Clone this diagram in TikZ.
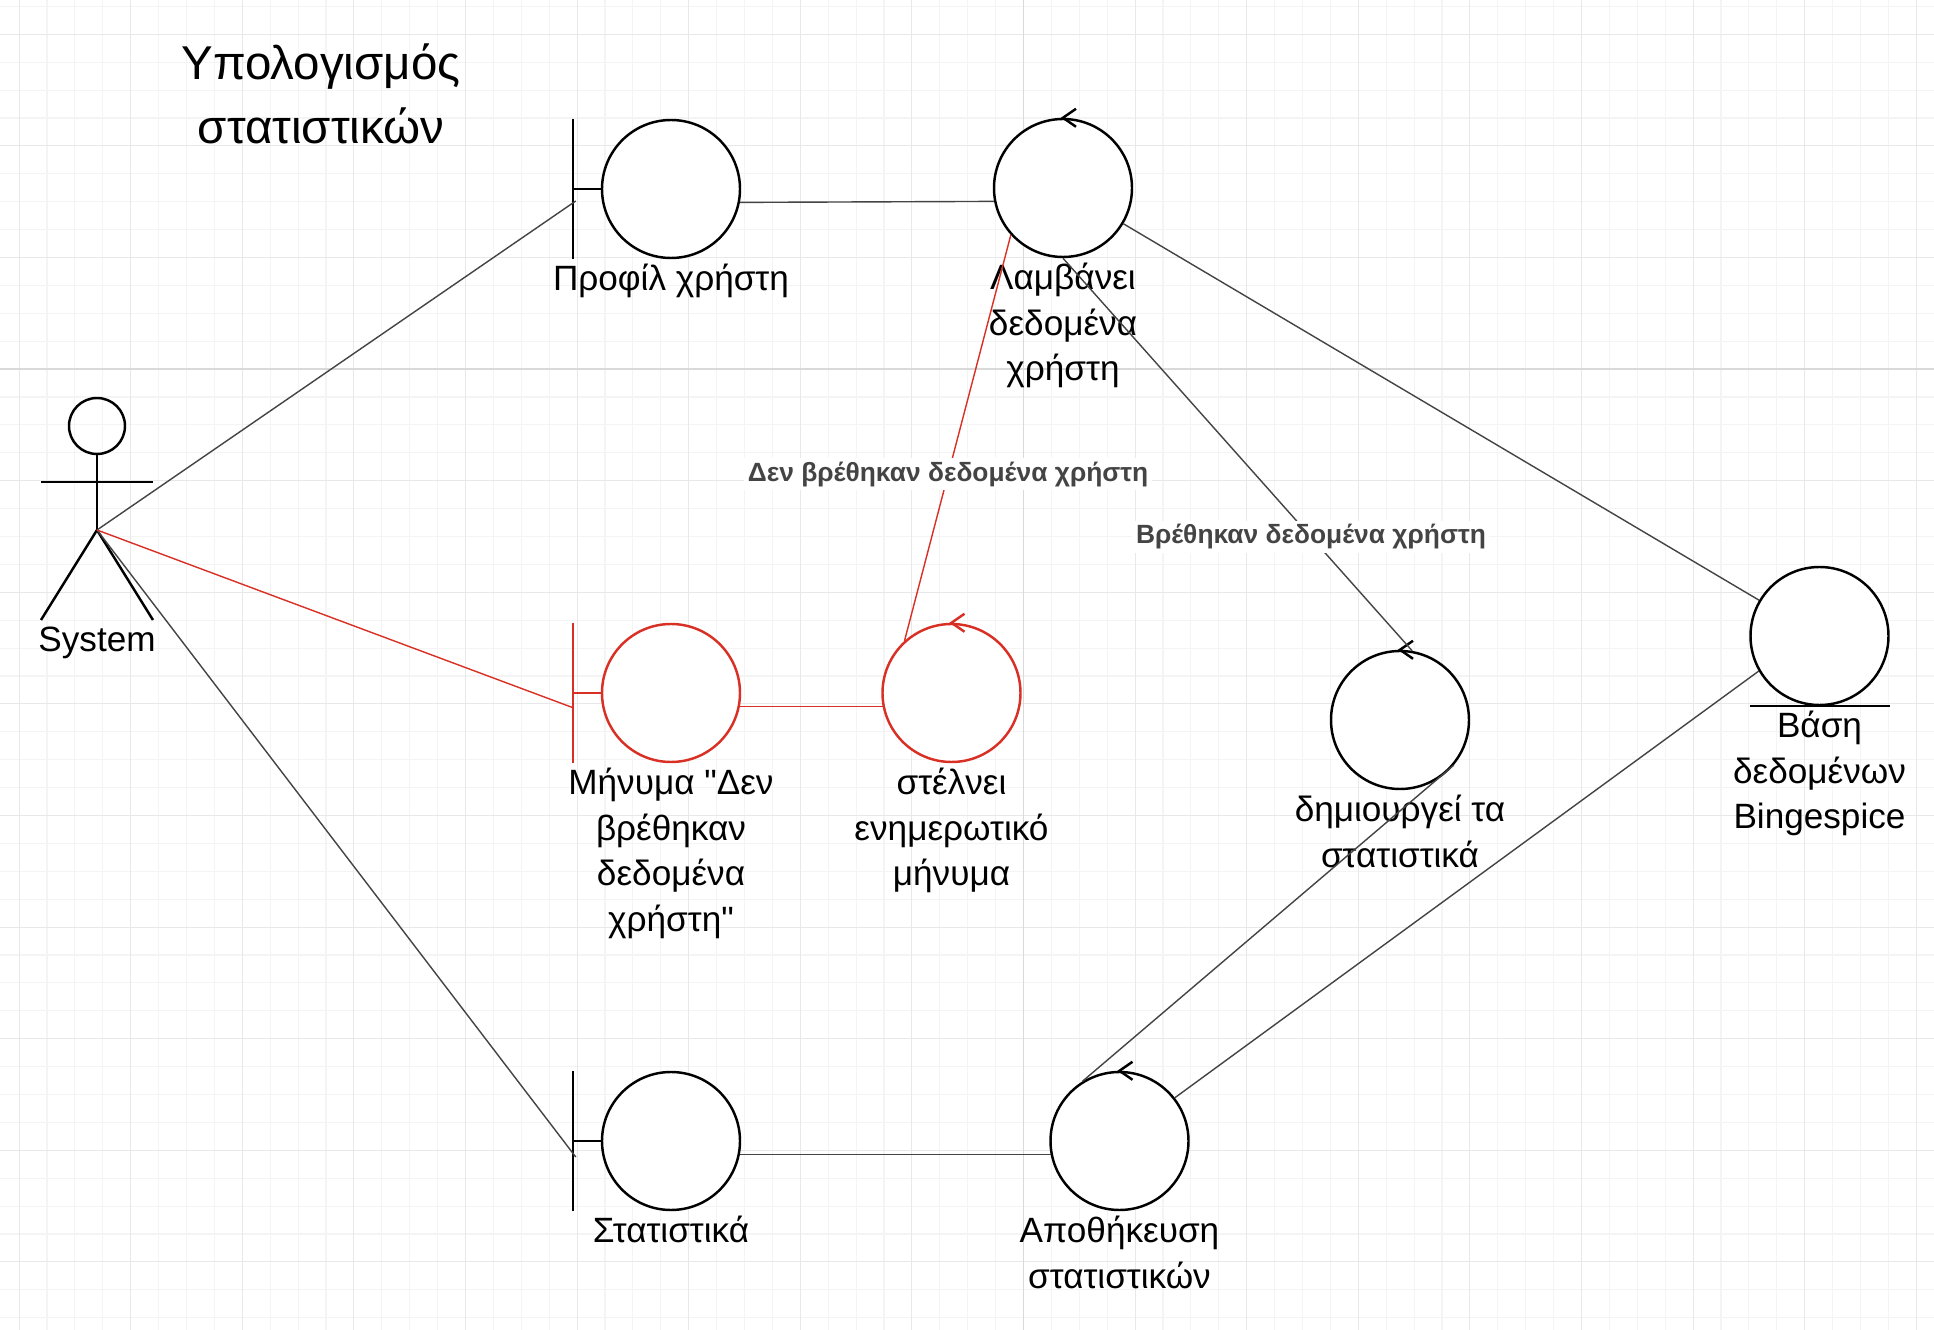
\documentclass[tikz,border=0pt]{standalone}
\usepackage{fontspec}
\setmainfont{Liberation Sans}
\newfontfamily\plainquote{Liberation Sans}
\usetikzlibrary{positioning,calc}
\definecolor{alertred}{RGB}{217,48,37}
\definecolor{edgegray}{RGB}{68,68,68}
\colorlet{gridminor}{gray!9}
\colorlet{gridmajor}{gray!18}
\colorlet{gridpage}{gray!30}

\begin{document}
\begin{tikzpicture}
  [x=0.1mm,y=-0.1mm,
   usecase/.style={circle,draw,line width=0.7pt,minimum size=13.8mm,inner sep=0pt,fill=white},
   bar/.style={line width=0.7pt},
   link/.style={draw=edgegray,line width=0.4pt},
   caption/.style={align=center,inner sep=0pt,font=\fontsize{10}{13}\selectfont},
   guard/.style={fill=white,inner sep=1pt,text=edgegray,font=\bfseries\fontsize{7.5}{9}\selectfont}
  ]
  % sfondo a griglia
  \fill[white] (0,0) rectangle (1934,1330);
  \useasboundingbox (0,0) rectangle (1934,1330);
  \foreach \i in {0,...,68} \draw[gridminor,line width=0.3pt] ({19.1+27.9*\i},0) -- ++(0,1330);
  \foreach \i in {0,...,47} \draw[gridminor,line width=0.3pt] (0,{6.4+27.9*\i}) -- ++(1934,0);
  \foreach \i in {0,...,17} \draw[gridmajor,line width=0.3pt] ({19.1+111.6*\i},0) -- ++(0,1330);
  \foreach \i in {0,...,11} \draw[gridmajor,line width=0.3pt] (0,{34.3+111.6*\i}) -- ++(1934,0);
  \draw[gridpage,line width=0.5pt] (1023.5,0) -- ++(0,1330);
  \draw[gridpage,line width=0.5pt] (0,369.1) -- ++(1934,0);

  \node[align=center,font=\fontsize{13.5}{18.2}\selectfont] (title) at (321,94) {Υπολογισμός\\στατιστικών};

  % attore
  \coordinate (sys) at (97,530);
  \coordinate (feet) at (97,620);
  \draw[bar] (97,426) circle (28);
  \draw[bar] (97,454) -- (sys);
  \draw[bar] (41,482) -- (153,482);
  \draw[bar] (41,620) -- (sys) -- (153,620);
  \node[caption,below=0.6mm of feet] (syslbl) {System};

  \node[usecase] (b1) at (671,189) {};
  \node[usecase] (c1) at (1063,188) {};
  \node[usecase,draw=alertred] (b2) at (671,693) {};
  \node[usecase,draw=alertred] (c2) at (951.5,693) {};
  \node[usecase] (c3) at (1400,720) {};
  \node[usecase] (db) at (1819.5,636) {};
  \node[usecase] (b3) at (671,1141) {};
  \node[usecase] (c4) at (1119.5,1141) {};

  % boundary
  \foreach \b/\col in {b1/black,b2/alertred,b3/black} {
    \draw[bar,\col] ($(\b.west)+(-28,-70)$) -- ($(\b.west)+(-28,70)$);
    \draw[bar,\col] ($(\b.west)+(-28,0)$) -- (\b.west);
  }
  % control
  \foreach \c/\col in {c1/black,c2/alertred,c3/black,c4/black}
    \draw[bar,\col] ($(\c.north)+(13,-9)$) -- (\c.north) -- ($(\c.north)+(13,9)$);
  % entity
  \draw[bar] ($(db.south)+(-70,0)$) -- ($(db.south)+(70,0)$);

  \node[caption,below=0.4mm of b1] (b1lbl) {Προφίλ χρήστη};
  \node[caption,below=0.4mm of c1] (c1lbl) {Λαμβάνει\\δεδομένα\\χρήστη};
  \node[caption,below=0.4mm of b2] (b2lbl) {Μήνυμα {\plainquote"}Δεν\\βρέθηκαν\\δεδομένα\\χρήστη{\plainquote"}};
  \node[caption,below=0.4mm of c2] (c2lbl) {στέλνει\\ενημερωτικό\\μήνυμα};
  \node[caption,below=0.4mm of c3] (c3lbl) {δημιουργεί τα\\στατιστικά};
  \node[caption,below=0.4mm of db] (dblbl) {Βάση\\δεδομένων\\Bingespice};
  \node[caption,below=0.4mm of b3] (b3lbl) {Στατιστικά};
  \node[caption,below=0.4mm of c4] (c4lbl) {Αποθήκευση\\στατιστικών};

  \coordinate (b1bar) at ($(b1.west)+(-25,12)$);
  \coordinate (b2bar) at ($(b2.west)+(-27,15)$);
  \coordinate (b3bar) at ($(b3.west)+(-25,16)$);

  \draw[link] (sys) -- (b1bar);
  \draw[link] (sys) -- (b3bar);
  \draw[link] (b1.-11) -- (c1.191);
  \draw[link] (c1) -- (db);
  \draw[link] (c1.south) -- node[guard,pos=0.71] {Βρέθηκαν δεδομένα χρήστη} (c3.80);
  \draw[link] (c3.-40) -- (c4.122);
  \draw[link] (db.210) -- (c4.38);
  \draw[link] (b3.-11) -- (c4.191);

  \draw[link,draw=alertred] (sys) -- (b2bar);
  \draw[link,draw=alertred] (b2.-11) -- (c2.191);
  \draw[link,draw=alertred] (c2.132) -- node[guard,pos=0.41] {Δεν βρέθηκαν δεδομένα χρήστη} (c1.222);
\end{tikzpicture}
\end{document}
